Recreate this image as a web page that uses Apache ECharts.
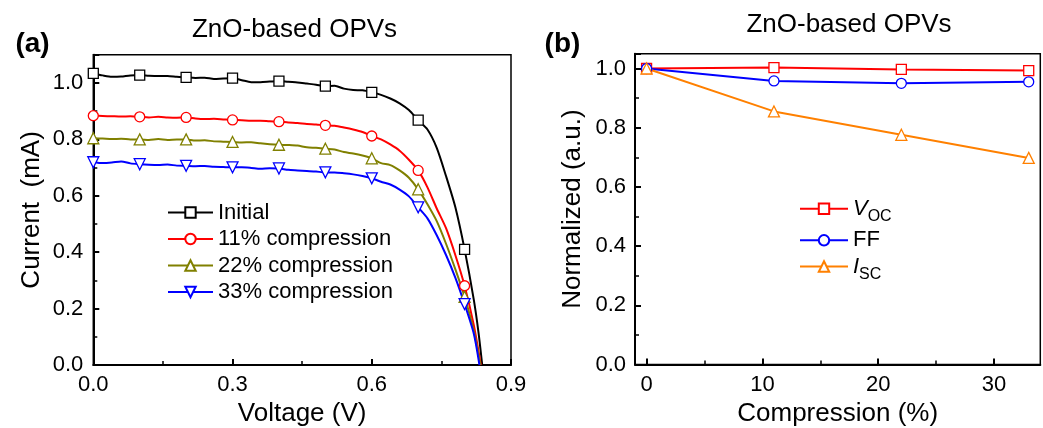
<!DOCTYPE html>
<html><head><meta charset="utf-8">
<script src="https://cdn.jsdelivr.net/npm/echarts@6/dist/echarts.min.js"></script>
<style>html,body{margin:0;padding:0;background:#fff}#c{width:1043px;height:428px}</style>
</head><body><div id="c"></div>
<script>
// ---------- Panel (a): I-V curves ----------
const initialCurve = [[0.00,1.034],[0.02,1.027],[0.04,1.022],[0.06,1.023],[0.08,1.027],[0.10,1.028],[0.12,1.026],[0.14,1.025],[0.16,1.025],[0.18,1.022],[0.20,1.020],[0.22,1.018],[0.24,1.019],[0.26,1.014],[0.28,1.016],[0.30,1.017],[0.32,1.010],[0.34,1.003],[0.36,1.003],[0.38,1.005],[0.40,1.007],[0.42,1.004],[0.44,1.002],[0.46,0.998],[0.48,0.994],[0.50,0.989],[0.52,0.990],[0.54,0.980],[0.56,0.975],[0.58,0.974],[0.60,0.967],[0.62,0.958],[0.64,0.945],[0.66,0.928],[0.68,0.904],[0.70,0.868],[0.72,0.835],[0.74,0.770],[0.76,0.670],[0.78,0.560],[0.80,0.410],[0.82,0.230],[0.83,0.115],[0.838,0.0]];
const comp11Curve = [[0.00,0.884],[0.02,0.883],[0.04,0.882],[0.06,0.881],[0.08,0.882],[0.10,0.880],[0.12,0.878],[0.14,0.880],[0.16,0.878],[0.18,0.877],[0.20,0.878],[0.22,0.874],[0.24,0.872],[0.26,0.873],[0.28,0.871],[0.30,0.869],[0.32,0.868],[0.34,0.866],[0.36,0.866],[0.38,0.864],[0.40,0.863],[0.42,0.860],[0.44,0.858],[0.46,0.855],[0.48,0.853],[0.50,0.850],[0.52,0.848],[0.54,0.842],[0.56,0.835],[0.58,0.826],[0.60,0.812],[0.62,0.800],[0.64,0.782],[0.66,0.760],[0.68,0.728],[0.70,0.690],[0.72,0.630],[0.74,0.555],[0.76,0.485],[0.78,0.390],[0.80,0.281],[0.82,0.140],[0.835,0.0]];
const comp22Curve = [[0.00,0.804],[0.02,0.803],[0.04,0.801],[0.06,0.802],[0.08,0.800],[0.10,0.800],[0.12,0.798],[0.14,0.801],[0.16,0.798],[0.18,0.800],[0.20,0.800],[0.22,0.796],[0.24,0.797],[0.26,0.793],[0.28,0.792],[0.30,0.791],[0.32,0.789],[0.34,0.790],[0.36,0.786],[0.38,0.783],[0.40,0.781],[0.42,0.780],[0.44,0.778],[0.46,0.772],[0.48,0.770],[0.50,0.767],[0.52,0.764],[0.54,0.755],[0.56,0.750],[0.58,0.743],[0.60,0.733],[0.62,0.716],[0.64,0.709],[0.66,0.690],[0.68,0.664],[0.70,0.623],[0.72,0.570],[0.74,0.510],[0.76,0.430],[0.78,0.340],[0.80,0.242],[0.82,0.120],[0.834,0.0]];
const comp33Curve = [[0.00,0.719],[0.02,0.716],[0.04,0.718],[0.06,0.722],[0.08,0.715],[0.10,0.712],[0.12,0.710],[0.14,0.709],[0.16,0.711],[0.18,0.707],[0.20,0.706],[0.22,0.705],[0.24,0.706],[0.26,0.703],[0.28,0.702],[0.30,0.701],[0.32,0.701],[0.34,0.699],[0.36,0.696],[0.38,0.698],[0.40,0.697],[0.42,0.692],[0.44,0.690],[0.46,0.688],[0.48,0.686],[0.50,0.683],[0.52,0.683],[0.54,0.680],[0.56,0.676],[0.58,0.670],[0.60,0.662],[0.62,0.650],[0.64,0.640],[0.66,0.622],[0.68,0.598],[0.70,0.559],[0.72,0.520],[0.74,0.460],[0.76,0.390],[0.78,0.310],[0.80,0.216],[0.82,0.110],[0.832,0.0]];
const markerVoltages = [0, 0.1, 0.2, 0.3, 0.4, 0.5, 0.6, 0.7, 0.8];
const ivNames = ['Initial', '11% compression', '22% compression', '33% compression'];

// ---------- Panel (b): normalized parameters ----------
const compression = [0, 11, 22, 33];
const vocNorm = [1.000, 1.003, 0.997, 0.993];
const ffNorm  = [1.000, 0.958, 0.950, 0.955];
const iscNorm = [1.000, 0.855, 0.776, 0.698];
const compMajorTicks = [0, 10, 20, 30];
const compMinorTicks = [5, 15, 25];

const FONT = 'Liberation Sans, Arial, sans-serif';
const BLACK = '#000';

function isMarker(v){ return markerVoltages.some(m => Math.abs(m - v) < 1e-6); }

function ivSeries(name, curve, color, symbol, size){
  return {
    type:'line', name, xAxisIndex:0, yAxisIndex:0,
    data: curve.map(p => ({value:p, symbolSize: isMarker(p[0]) ? size : 0})),
    symbol, symbolSize:size, showSymbol:true, showAllSymbol:true,
    smooth:0.25, clip:true,
    lineStyle:{color, width:2},
    itemStyle:{color:'#fff', borderColor:color, borderWidth:1.3},
    emphasis:{disabled:true}, animation:false
  };
}
function normSeries(name, vals, color, symbol, size){
  return {
    type:'line', name, xAxisIndex:1, yAxisIndex:1,
    data: compression.map((c,i)=>[c, vals[i]]),
    symbol, symbolSize:size, showSymbol:true,
    lineStyle:{color, width:2},
    itemStyle:{color:'#fff', borderColor:color, borderWidth:1.3},
    emphasis:{disabled:true}, animation:false
  };
}

const tickLabel = {color:BLACK, fontSize:22, fontFamily:FONT};
const axisLine = {show:true, onZero:false, lineStyle:{color:BLACK, width:2}};
const majorTick = {show:true, inside:true, length:6, lineStyle:{color:BLACK, width:2}};
const minorTick = (n)=>({show:true, splitNumber:n, length:4, lineStyle:{color:BLACK, width:1.5}});
const nameStyle = {color:BLACK, fontSize:26, fontFamily:FONT};

const downTri = 'path://M0,0 L10,0 L5,9 Z';

const option = {
  backgroundColor:'#fff',
  animation:false,
  grid:[
    {left:93.3, top:54.8, width:417.7, height:310.2, show:true, borderColor:BLACK, borderWidth:1.5, backgroundColor:'transparent', containLabel:false, outerBoundsMode:'none'},
    {left:635, top:53.7, width:405.3, height:310.8, show:true, borderColor:BLACK, borderWidth:1.5, backgroundColor:'transparent', containLabel:false, outerBoundsMode:'none'}
  ],
  xAxis:[
    {type:'value', gridIndex:0, min:0, max:0.9, interval:0.3,
     name:'Voltage (V)', nameLocation:'middle', nameGap:35, nameTextStyle:nameStyle,
     axisLine, axisTick:majorTick, minorTick:minorTick(2), splitLine:{show:false},
     axisLabel:{...tickLabel, margin:9, formatter:v=>v.toFixed(1)}},
    {type:'value', gridIndex:1, min:-1, max:34, position:'bottom',
     name:'Compression (%)', nameLocation:'middle', nameGap:35, nameTextStyle:nameStyle,
     axisLine, axisTick:{...majorTick, customValues:compMajorTicks}, splitLine:{show:false},
     axisLabel:{...tickLabel, margin:9, customValues:compMajorTicks, formatter:v=>String(v)}},
    {type:'value', gridIndex:1, min:-1, max:34, position:'bottom', offset:0,
     axisLine:{show:false}, axisTick:{show:true, inside:true, length:4, customValues:compMinorTicks, lineStyle:{color:BLACK, width:1.5}},
     axisLabel:{show:false}, splitLine:{show:false}}
  ],
  yAxis:[
    {type:'value', gridIndex:0, min:0, max:1.1, interval:0.2,
     name:'Current  (mA)', nameLocation:'middle', nameGap:48, nameTextStyle:nameStyle,
     axisLine, axisTick:majorTick, minorTick:minorTick(2), splitLine:{show:false},
     axisLabel:{...tickLabel, margin:10, showMaxLabel:false, formatter:v=>v.toFixed(1)}},
    {type:'value', gridIndex:1, min:0, max:1.05, interval:0.2,
     name:'Normalized (a.u.)', nameLocation:'middle', nameGap:49, nameTextStyle:nameStyle,
     axisLine, axisTick:majorTick, minorTick:minorTick(2), splitLine:{show:false},
     axisLabel:{...tickLabel, margin:9, showMaxLabel:false, formatter:v=>v.toFixed(1)}}
  ],
  legend:[
    {data:ivNames, orient:'vertical', left:167, top:201.5, padding:0, itemGap:4.5,
     itemWidth:45, itemHeight:13, selectedMode:false,
     textStyle:{color:BLACK, fontSize:22, fontFamily:FONT, lineHeight:20}},
    {data:['Voc'], left:799, top:192.8, padding:0, itemWidth:48, itemHeight:13, selectedMode:false,
     formatter:()=>'{v|V}{s|OC}',
     textStyle:{color:BLACK, fontSize:22, fontFamily:FONT,
       rich:{v:{fontSize:22, fontStyle:'italic', fontFamily:FONT, color:BLACK, lineHeight:24},
             s:{fontSize:16, fontFamily:FONT, color:BLACK, lineHeight:15, padding:[16,0,0,0]}}}},
    {data:['FF'], left:799, top:229.3, padding:0, itemWidth:48, itemHeight:13, selectedMode:false,
     textStyle:{color:BLACK, fontSize:22, fontFamily:FONT, lineHeight:20}},
    {data:['Isc'], left:799, top:250.5, padding:0, itemWidth:48, itemHeight:13, selectedMode:false,
     formatter:()=>'{v|I}{s|SC}',
     textStyle:{color:BLACK, fontSize:22, fontFamily:FONT,
       rich:{v:{fontSize:22, fontStyle:'italic', fontFamily:FONT, color:BLACK, lineHeight:24},
             s:{fontSize:16, fontFamily:FONT, color:BLACK, lineHeight:15, padding:[16,0,0,0]}}}}
  ],
  graphic:[
    {type:'text', x:294.5, y:30, style:{text:'ZnO-based OPVs', font:'26px '+FONT, fill:BLACK, align:'center', verticalAlign:'middle'}},
    {type:'text', x:849, y:25, style:{text:'ZnO-based OPVs', font:'26px '+FONT, fill:BLACK, align:'center', verticalAlign:'middle'}},
    {type:'text', x:32.5, y:44, style:{text:'(a)', font:'bold 28px '+FONT, fill:BLACK, align:'center', verticalAlign:'middle'}},
    {type:'text', x:562.5, y:44, style:{text:'(b)', font:'bold 28px '+FONT, fill:BLACK, align:'center', verticalAlign:'middle'}}
  ],
  series:[
    ivSeries(ivNames[0], initialCurve, '#000000', 'rect', 10),
    ivSeries(ivNames[1], comp11Curve, '#ff0000', 'circle', 10),
    ivSeries(ivNames[2], comp22Curve, '#808000', 'triangle', 11),
    ivSeries(ivNames[3], comp33Curve, '#0000ff', downTri, 11),
    normSeries('Voc', vocNorm, '#ff0000', 'rect', 10),
    normSeries('FF', ffNorm, '#0000ff', 'circle', 10),
    normSeries('Isc', iscNorm, '#ff8000', 'triangle', 11)
  ]
};
const chart = echarts.init(document.getElementById('c'), null, {renderer:'canvas'});
chart.setOption(option);
</script>
</body></html>
